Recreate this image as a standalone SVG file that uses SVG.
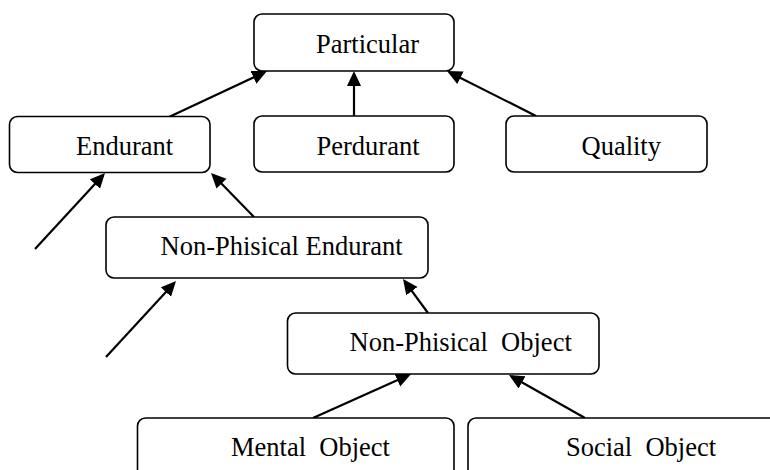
<svg xmlns="http://www.w3.org/2000/svg" width="770" height="470" viewBox="0 0 770 470">
<defs>
<style>
.box{fill:#fff;stroke:#000;stroke-width:1.6}
.lbl{font-family:"Liberation Serif","Times New Roman",serif;font-size:26.5px;fill:#000;white-space:pre}
.edge{stroke:#000;stroke-width:2.2;fill:none;marker-end:url(#ah)}
</style>
<marker id="ah" markerUnits="userSpaceOnUse" markerWidth="16" markerHeight="15" refX="12" refY="7" orient="auto">
<path d="M0,0 L15,7 L0,14 z" fill="#000"/>
</marker>
</defs>
<rect width="770" height="470" fill="#fff"/>
<g id="connectors">
<line class="edge" x1="169" y1="117" x2="264.3" y2="72.3"/>
<line class="edge" x1="354" y1="116" x2="354" y2="74"/>
<line class="edge" x1="536" y1="116" x2="449.7" y2="72.4"/>
<line class="edge" x1="35" y1="249" x2="103" y2="175.2"/>
<line class="edge" x1="254" y1="217" x2="213.1" y2="175.1"/>
<line class="edge" x1="106" y1="357" x2="174" y2="283.2"/>
<line class="edge" x1="428" y1="313" x2="404.8" y2="281.4"/>
<line class="edge" x1="313" y1="418" x2="408.3" y2="375.2"/>
<line class="edge" x1="585" y1="418" x2="511.6" y2="376.5"/>
</g>
<g id="particular">
<rect class="box" x="254" y="14" width="200" height="57" rx="8"/>
<text class="lbl" x="316" y="52.7">Particular</text>
</g>
<g id="endurant">
<rect class="box" x="9.5" y="116.5" width="200.5" height="56" rx="8"/>
<text class="lbl" x="76" y="155">Endurant</text>
</g>
<g id="perdurant">
<rect class="box" x="254" y="116" width="200" height="56" rx="8"/>
<text class="lbl" x="316.5" y="154.5">Perdurant</text>
</g>
<g id="quality">
<rect class="box" x="506" y="116" width="201" height="56" rx="8"/>
<text class="lbl" x="581.5" y="154.5">Quality</text>
</g>
<g id="non-phisical-endurant">
<rect class="box" x="106" y="217" width="322" height="61" rx="8"/>
<text class="lbl" x="160.5" y="254.5">Non-Phisical Endurant</text>
</g>
<g id="non-phisical-object">
<rect class="box" x="287.5" y="313" width="311.5" height="61" rx="8"/>
<text class="lbl" x="349.5" y="350.7">Non-Phisical  Object</text>
</g>
<g id="mental-object">
<rect class="box" x="137.5" y="418" width="316.5" height="80" rx="8"/>
<text class="lbl" x="231" y="456">Mental  Object</text>
</g>
<g id="social-object">
<rect class="box" x="468" y="418" width="320" height="80" rx="8"/>
<text class="lbl" x="566" y="456">Social  Object</text>
</g>
</svg>
